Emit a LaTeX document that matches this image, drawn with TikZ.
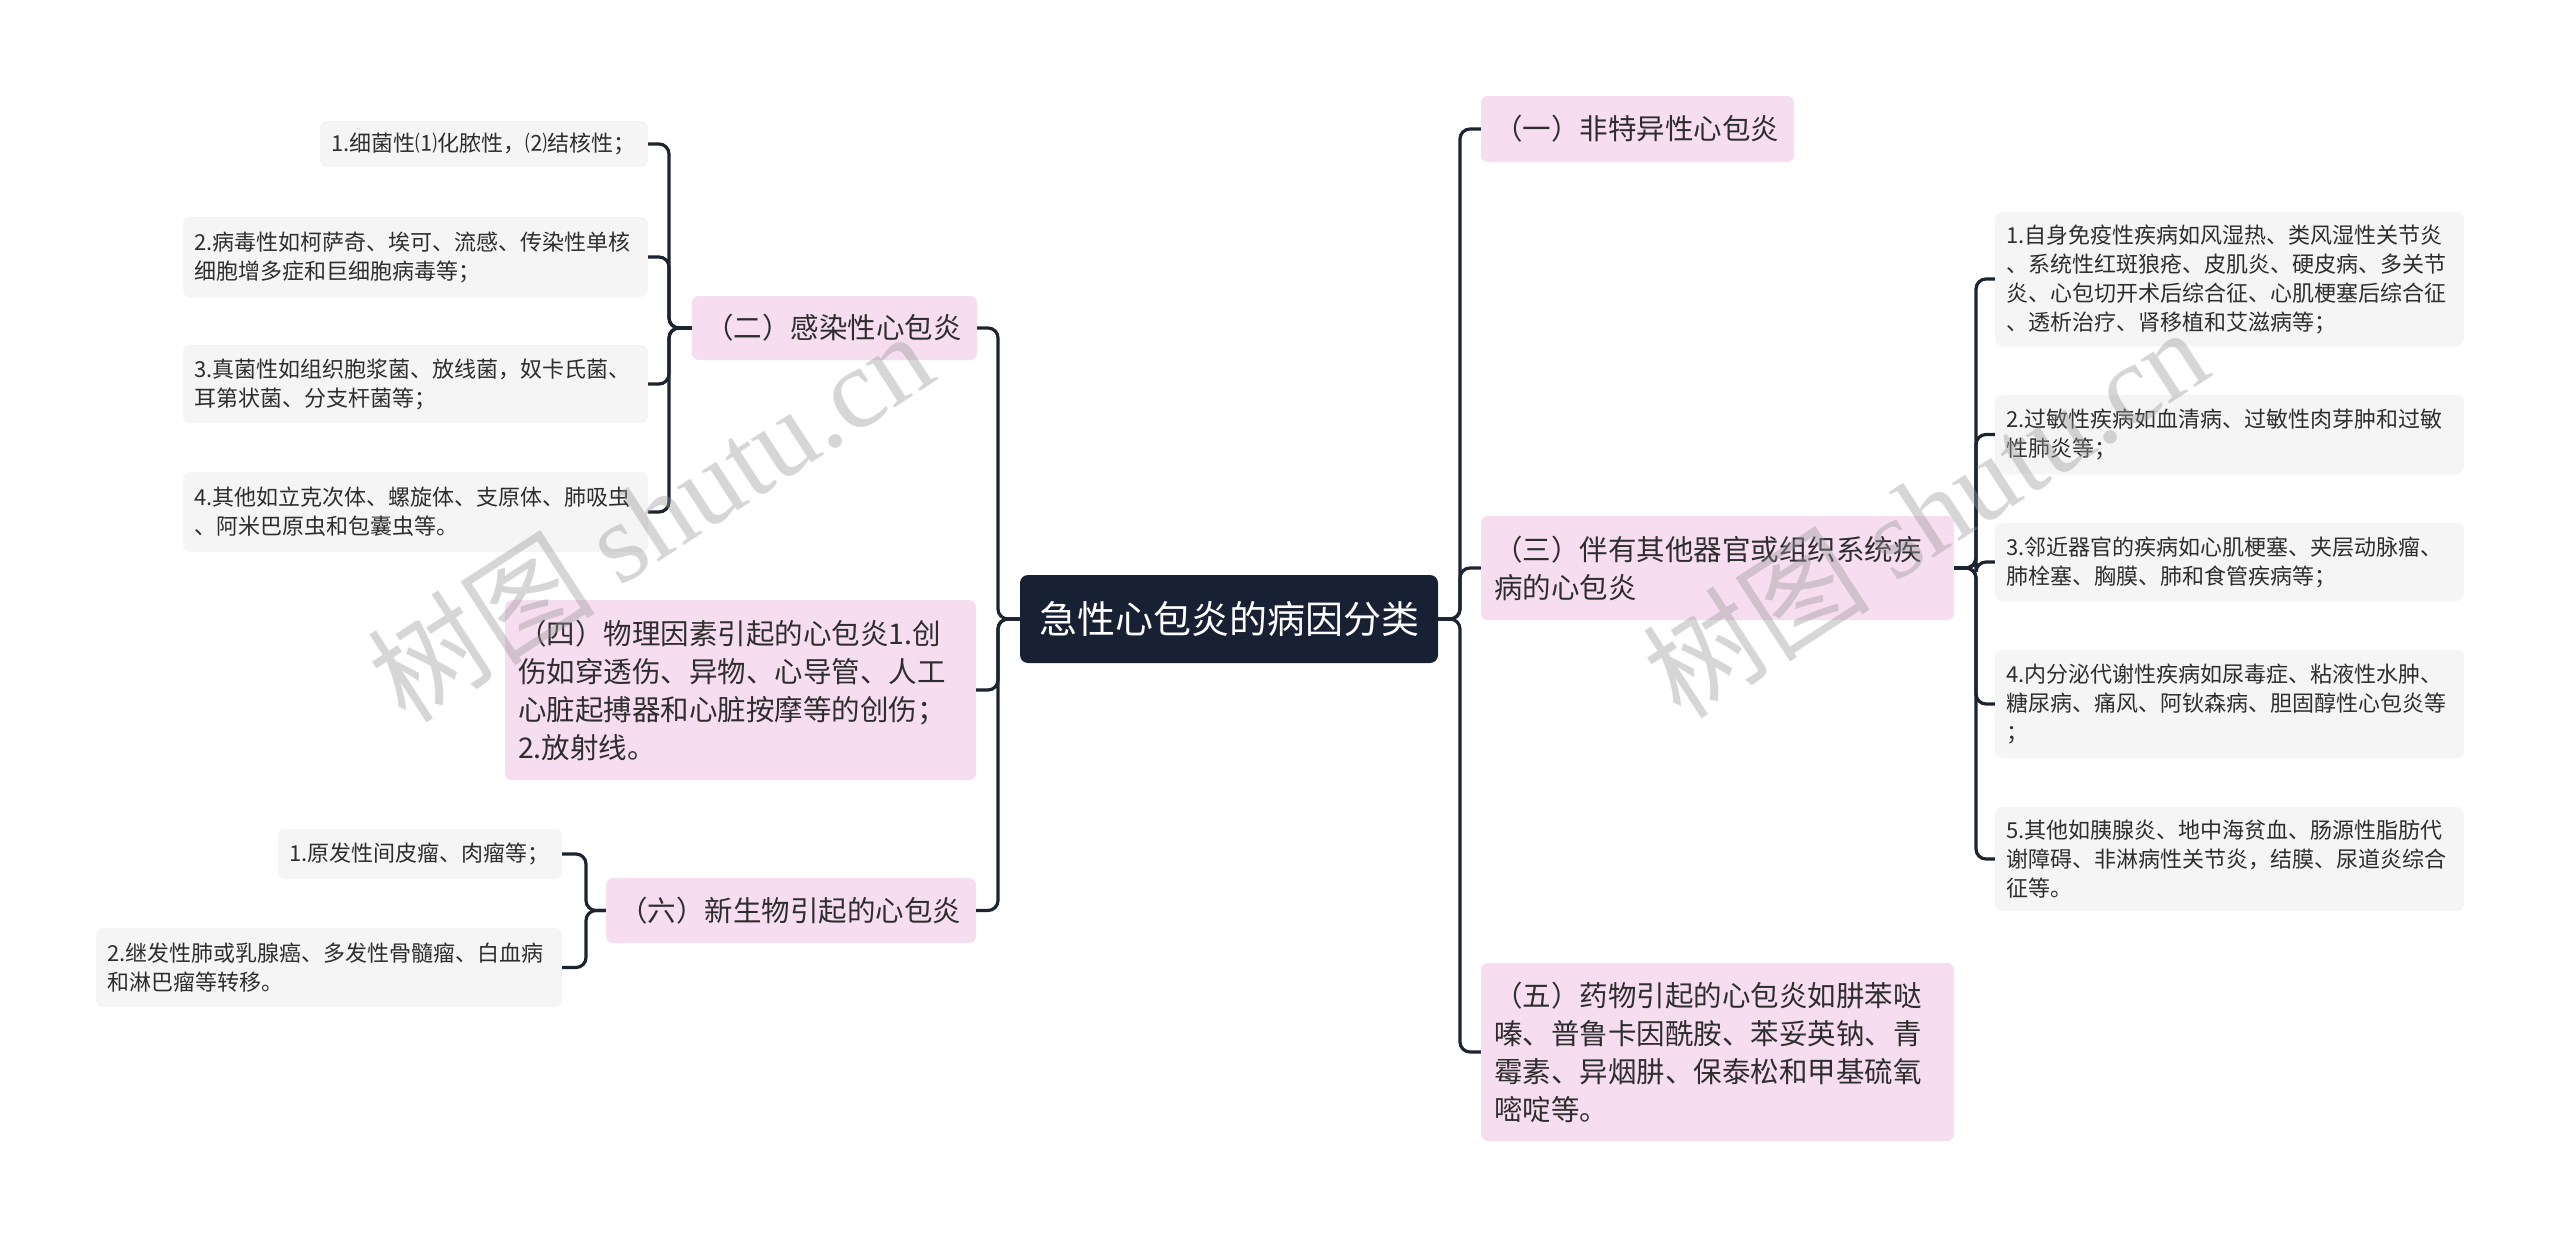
\documentclass[tikz,border=0pt]{standalone}
\usepackage{fontspec}
\setmainfont{Noto Sans CJK SC}
\newfontfamily\wmlatin{Liberation Serif}
\usetikzlibrary{calc}
\definecolor{rootnavy}{HTML}{172133}
\definecolor{topicpink}{HTML}{F6DDF0}
\definecolor{leafgray}{HTML}{F5F5F5}
\definecolor{linkdark}{HTML}{1C2331}
\definecolor{textdark}{HTML}{2E2E2E}
\tikzset{
  rootbox/.style={fill=rootnavy, text=white, rounded corners=8pt, minimum width=418pt, minimum height=88pt, inner sep=0pt, font=\fontsize{38}{46}\selectfont},
  topicbox/.style={fill=topicpink, text=textdark, rounded corners=7pt, align=left, inner xsep=13pt, inner ysep=0pt, font=\fontsize{28.5}{38}\selectfont},
  leafbox/.style={fill=leafgray, text=textdark, rounded corners=7pt, align=left, inner xsep=11pt, inner ysep=0pt, font=\fontsize{22}{29}\selectfont},
  link/.style={draw=linkdark, line width=3.2pt, rounded corners=10pt},
  wmark/.style={text=black!40, opacity=0.4, rotate=33, font=\fontsize{114}{114}\selectfont}
}

\begin{document}
\begin{tikzpicture}[x=1pt, y=-1pt]
			%%%%% START %%%%%
			
			\fill[white] (0, 0) rectangle (2560, 1239);
			\useasboundingbox (0, 0) rectangle (2560, 1239);
			
			\node[rootbox] (root) at (1229, 619) {急性心包炎的病因分类};
			
			% left topics
			\node[topicbox, text width=259pt, minimum height=64pt] (t2) at (834.5, 328) {（二）感染性心包炎};
			\node[topicbox, text width=445pt, minimum height=180pt] (t4) at (740.5, 690) {（四）物理因素引起的心包炎1.创\\伤如穿透伤、异物、心导管、人工\\心脏起搏器和心脏按摩等的创伤；\\2.放射线。};
			\node[topicbox, text width=344pt, minimum height=65pt] (t6) at (791, 910.5) {（六）新生物引起的心包炎};
			
			% right topics
			\node[topicbox, text width=287pt, minimum height=66pt] (t1) at (1637.5, 129) {（一）非特异性心包炎};
			\node[topicbox, text width=447pt, minimum height=104pt] (t3) at (1717.5, 568) {（三）伴有其他器官或组织系统疾\\病的心包炎};
			\node[topicbox, text width=447pt, minimum height=178pt] (t5) at (1717.5, 1052) {（五）药物引起的心包炎如肼苯哒\\嗪、普鲁卡因酰胺、苯妥英钠、青\\霉素、异烟肼、保泰松和甲基硫氧\\嘧啶等。};
			
			% leaves of (二)
			\node[leafbox, text width=306pt, minimum height=46pt] (a1) at (484, 144) {1.细菌性⑴化脓性，⑵结核性；};
			\node[leafbox, text width=443pt, minimum height=80pt] (a2) at (415.5, 257) {2.病毒性如柯萨奇、埃可、流感、传染性单核\\细胞增多症和巨细胞病毒等；};
			\node[leafbox, text width=443pt, minimum height=78pt] (a3) at (415.5, 384) {3.真菌性如组织胞浆菌、放线菌，奴卡氏菌、\\耳第状菌、分支杆菌等；};
			\node[leafbox, text width=443pt, minimum height=80pt] (a4) at (415.5, 512) {4.其他如立克次体、螺旋体、支原体、肺吸虫\\、阿米巴原虫和包囊虫等。};
			
			% leaves of (六)
			\node[leafbox, text width=262pt, minimum height=50pt] (c1) at (420, 854) {1.原发性间皮瘤、肉瘤等；};
			\node[leafbox, text width=444pt, minimum height=79pt] (c2) at (329, 967.5) {2.继发性肺或乳腺癌、多发性骨髓瘤、白血病\\和淋巴瘤等转移。};
			
			% leaves of (三)
			\node[leafbox, text width=447pt, minimum height=134pt] (b1) at (2229.5, 279) {1.自身免疫性疾病如风湿热、类风湿性关节炎\\、系统性红斑狼疮、皮肌炎、硬皮病、多关节\\炎、心包切开术后综合征、心肌梗塞后综合征\\、透析治疗、肾移植和艾滋病等；};
			\node[leafbox, text width=447pt, minimum height=79pt] (b2) at (2229.5, 434.5) {2.过敏性疾病如血清病、过敏性肉芽肿和过敏\\性肺炎等；};
			\node[leafbox, text width=447pt, minimum height=78pt] (b3) at (2229.5, 562) {3.邻近器官的疾病如心肌梗塞、夹层动脉瘤、\\肺栓塞、胸膜、肺和食管疾病等；};
			\node[leafbox, text width=447pt, minimum height=108pt] (b4) at (2229.5, 704) {4.内分泌代谢性疾病如尿毒症、粘液性水肿、\\糖尿病、痛风、阿钬森病、胆固醇性心包炎等\\；};
			\node[leafbox, text width=447pt, minimum height=104pt] (b5) at (2229.5, 859) {5.其他如胰腺炎、地中海贫血、肠源性脂肪代\\谢障碍、非淋病性关节炎，结膜、尿道炎综合\\征等。};
			
			% trunks
			\coordinate (trunkL) at (998, 619);
			\coordinate (trunkR) at (1460, 619);
			\coordinate (trunk2) at (669, 328);
			\coordinate (trunk6) at (586, 910.5);
			\coordinate (trunk3) at (1976, 568);
			
			\foreach \t in {t2, t4, t6} {
				\draw[link] (root.west) -- (trunkL) |- (\t.east);
			}
			\foreach \t in {t1, t3, t5} {
				\draw[link] (root.east) -- (trunkR) |- (\t.west);
			}
			\foreach \t in {a1, a2, a3, a4} {
				\draw[link] (t2.west) -- (trunk2) |- (\t.east);
			}
			\foreach \t in {c1, c2} {
				\draw[link] (t6.west) -- (trunk6) |- (\t.east);
			}
			\foreach \t in {b1, b2, b3, b4, b5} {
				\draw[link] (t3.east) -- (trunk3) |- (\t.west);
			}
			
			% watermarks
			\node[wmark] (wmleft) at (650, 516) {树图 {\wmlatin shutu.cn}};
			\node[wmark] (wmright) at (1925, 512) {树图 {\wmlatin shutu.cn}};
			
			%%%%% END %%%%%
\end{tikzpicture}
\end{document}
